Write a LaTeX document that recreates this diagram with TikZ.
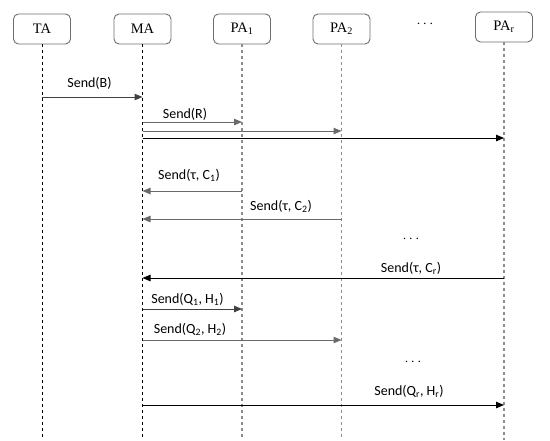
\documentclass[tikz,border=0pt]{standalone}
\usepackage{fontspec}
\setmainfont{Liberation Serif}
\newfontfamily\msgfont{Carlito}
\usetikzlibrary{arrows.meta}
\definecolor{boxgray}{HTML}{6E6E6E}
\definecolor{linegray}{HTML}{8C8C8C}
\definecolor{arrgray}{HTML}{6A6A6A}
\definecolor{arrdark}{HTML}{404040}
\tikzset{
  agent/.style={draw=boxgray, line width=0.9pt, rounded corners=5pt, minimum width=57pt, minimum height=30pt, inner sep=0pt, font=\fontsize{14.5}{16}\selectfont},
  lifedark/.style={draw=black, line width=1pt, dash pattern=on 3pt off 3pt},
  lifegray/.style={draw=linegray, line width=1.1pt, dash pattern=on 3pt off 3pt},
  msg/.style={line width=1pt, -{Triangle[length=8pt,width=6.5pt]}},
  msglabel/.style={font=\msgfont\fontsize{14}{16}\selectfont, inner sep=0pt},
  dotsnode/.style={inner sep=0pt, font=\fontsize{15}{17}\selectfont}
}
\begin{document}
\begin{tikzpicture}[x=1pt,y=-1pt]
\useasboundingbox (0,0) rectangle (550,440);
% agents
\node[agent] (ta)  at (42,29)  {TA};
\node[agent] (ma)  at (142.5,29) {MA};
\node[agent] (pa1) at (242,29) {PA\textsubscript{1}};
\node[agent] (pa2) at (341.5,29) {PA\textsubscript{2}};
\node[agent] (par) at (504,27) {PA\textsubscript{r}};
\node[dotsnode] (topdots) at (425,24) {$\cdots$};
% lifeline ends
\coordinate (taend)  at (ta.south |- 0,440);
\coordinate (maend)  at (ma.south |- 0,440);
\coordinate (pa1end) at (pa1.south |- 0,440);
\coordinate (pa2end) at (pa2.south |- 0,440);
\coordinate (parend) at (par.south |- 0,440);
\draw[lifedark] (ta.south) -- (taend);
\draw[lifedark] (ma.south) -- (maend);
\draw[lifegray] (pa1.south) -- (pa1end);
\draw[lifegray] (pa2.south) -- (pa2end);
\draw[lifegray] (par.south) -- (parend);
% Send(B)
\draw[msg, draw=arrdark, fill=arrdark] (ta |- 0,97) -- (ma |- 0,97);
\node[msglabel] (lb) at (89.5,83) {Send(B)};
% Send(R)
\draw[msg, draw=arrgray, fill=arrgray] (ma |- 0,122) -- (pa1 |- 0,122);
\draw[msg, draw=arrgray, fill=arrgray] (ma |- 0,131) -- (pa2 |- 0,131);
\draw[msg, draw=black, fill=black] (ma |- 0,138) -- (par |- 0,138);
\node[msglabel] (lr) at (185,114) {Send(R)};
% Send(tau, C)
\draw[msg, draw=arrgray, fill=arrgray] (pa1 |- 0,191) -- (ma |- 0,191);
\node[msglabel] (lc1) at (189,175) {Send(τ, C\textsubscript{1})};
\draw[msg, draw=arrgray, fill=arrgray] (pa2 |- 0,219) -- (ma |- 0,219);
\node[msglabel] (lc2) at (281,206) {Send(τ, C\textsubscript{2})};
\node[dotsnode] (dots1) at (411,239) {$\cdots$};
\draw[msg, draw=black, fill=black] (par |- 0,278) -- (ma |- 0,278);
\node[msglabel] (lcr) at (411,268) {Send(τ, C\textsubscript{r})};
% Send(Q, H)
\draw[msg, draw=arrdark, fill=arrdark] (ma |- 0,309) -- (pa1 |- 0,309);
\node[msglabel] (lq1) at (187.5,299) {Send(Q\textsubscript{1}, H\textsubscript{1})};
\draw[msg, draw=arrgray, fill=arrgray] (ma |- 0,340) -- (pa2 |- 0,340);
\node[msglabel] (lq2) at (190,329) {Send(Q\textsubscript{2}, H\textsubscript{2})};
\node[dotsnode] (dots2) at (413,362) {$\cdots$};
\draw[msg, draw=black, fill=black] (ma |- 0,405) -- (par |- 0,405);
\node[msglabel] (lqr) at (409,391) {Send(Q\textsubscript{r}, H\textsubscript{r})};
\end{tikzpicture}
\end{document}
